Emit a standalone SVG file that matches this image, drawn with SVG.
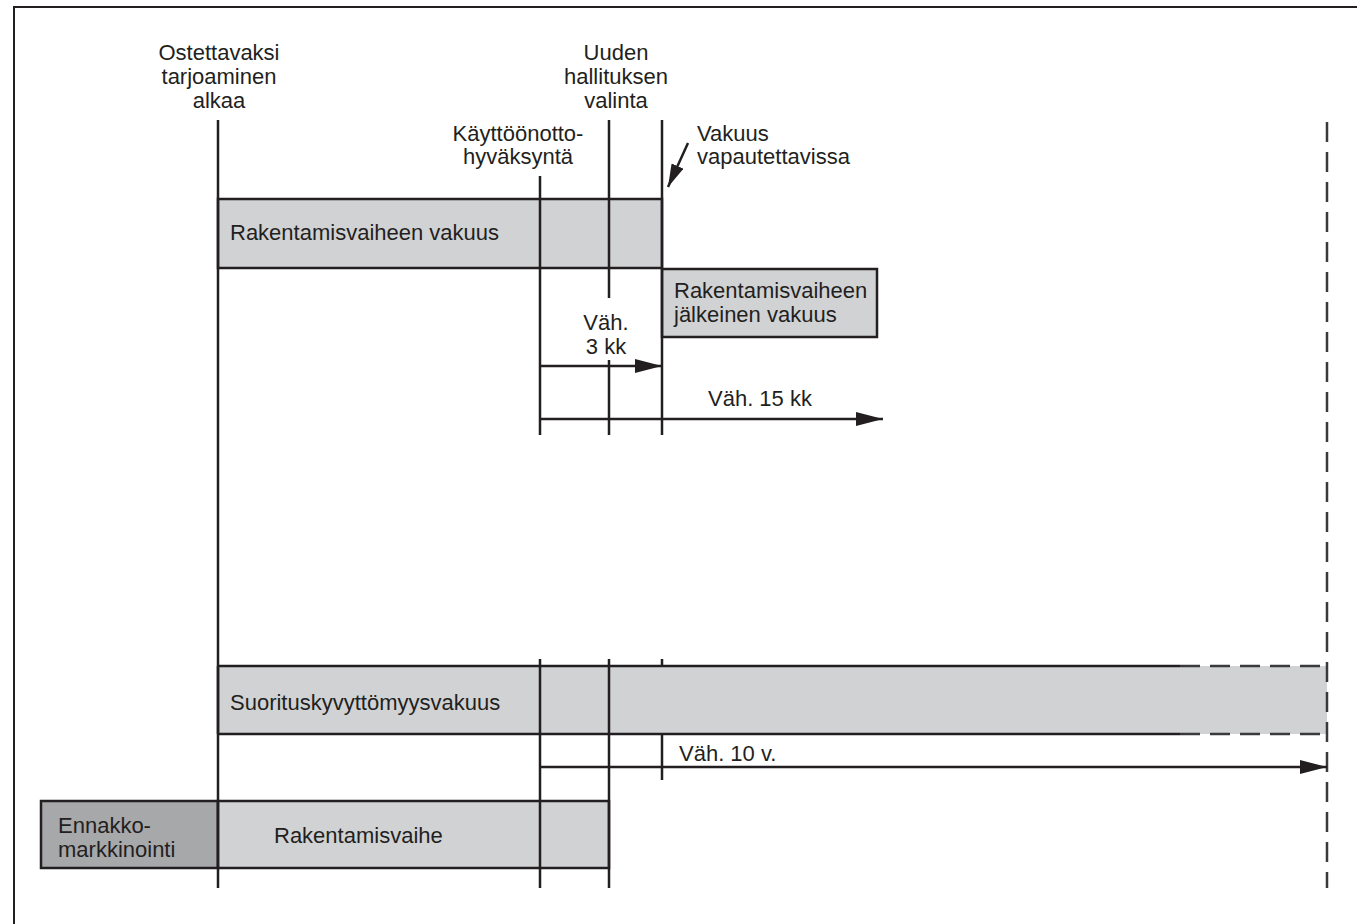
<svg xmlns="http://www.w3.org/2000/svg" width="1357" height="924" viewBox="0 0 1357 924">
<style>
text{font-family:"Liberation Sans",Arial,sans-serif;font-size:22px;fill:#231f20}
.c{text-anchor:middle}
.ln{stroke:#231f20;stroke-width:2.5;fill:none}
.dash{stroke:#3a3a3c;stroke-width:2.5;fill:none;stroke-dasharray:20 10}
.box{fill:#d1d2d4;stroke:#231f20;stroke-width:2.5}
.dark{fill:#a7a8aa;stroke:#231f20;stroke-width:2.5}
</style>
<defs>
<marker id="ah" markerUnits="userSpaceOnUse" markerWidth="27" markerHeight="14" refX="27" refY="7" orient="auto"><path d="M0,0 L27,7 L0,14 z" fill="#231f20"/></marker>
<marker id="ah2" markerUnits="userSpaceOnUse" markerWidth="23" markerHeight="13" refX="23" refY="6.5" orient="auto"><path d="M0,0 L23,6.5 L0,13 z" fill="#231f20"/></marker>
</defs>
<rect x="0" y="0" width="1357" height="924" fill="#ffffff"/>
<rect x="14" y="7" width="1370" height="940" fill="none" stroke="#231f20" stroke-width="2"/>

<g id="rak-vakuus"><rect class="box" x="218" y="199" width="444" height="69"/><text x="230" y="240">Rakentamisvaiheen vakuus</text></g>
<g id="jalk-vakuus"><rect class="box" x="662" y="269" width="215" height="68"/><text x="674" y="298">Rakentamisvaiheen</text><text x="674" y="322">jälkeinen vakuus</text></g>
<g id="suoritus"><rect x="218" y="666" width="1109" height="68" fill="#d1d2d4"/><path class="ln" d="M218,666 H1180 M218,734 H1180 M218,666 V734"/><path class="dash" d="M1180,666 H1327 M1180,734 H1327"/><text x="230" y="710">Suorituskyvyttömyysvakuus</text></g>
<g id="ennakko"><rect class="dark" x="41" y="801" width="177" height="67"/><text x="58" y="833">Ennakko-</text><text x="58" y="857">markkinointi</text></g>
<g id="rakentamisvaihe"><rect class="box" x="218" y="801" width="391" height="67"/><text x="274" y="843">Rakentamisvaihe</text></g>

<g id="ostettavaksi"><text class="c" x="219" y="60">Ostettavaksi</text><text class="c" x="219" y="84">tarjoaminen</text><text class="c" x="219" y="108">alkaa</text></g>
<g id="uuden"><text class="c" x="616" y="60">Uuden</text><text class="c" x="616" y="84">hallituksen</text><text class="c" x="616" y="108">valinta</text></g>
<g id="kayttoonotto"><text class="c" x="518" y="141">Käyttöönotto-</text><text class="c" x="518" y="164">hyväksyntä</text></g>
<g id="vakuus-vap"><text x="697" y="141">Vakuus</text><text x="697" y="164">vapautettavissa</text></g>
<g id="vah3"><text class="c" x="606" y="330">Väh.</text><text class="c" x="606" y="354">3 kk</text></g>
<g id="vah15"><text x="708" y="406">Väh. 15 kk</text></g>
<g id="vah10"><text x="679" y="761">Väh. 10 v.</text></g>

<g id="connectors">
<path class="ln" d="M218,120 V888"/>
<path class="ln" d="M540,176 V435 M609,120 V298 M609,360 V435 M662,120 V435"/>
<path class="ln" d="M540,659 V888 M609,659 V888 M662,659 V666 M662,734 V780"/>
<path class="dash" d="M1327,122 V888"/>
<path class="ln" d="M540,366 H662" marker-end="url(#ah)"/>
<path class="ln" d="M540,419 H883" marker-end="url(#ah)"/>
<path class="ln" d="M540,767 H1327" marker-end="url(#ah)"/>
<path class="ln" d="M688,143 L668,187" stroke-width="2" marker-end="url(#ah2)"/>
</g>
</svg>
